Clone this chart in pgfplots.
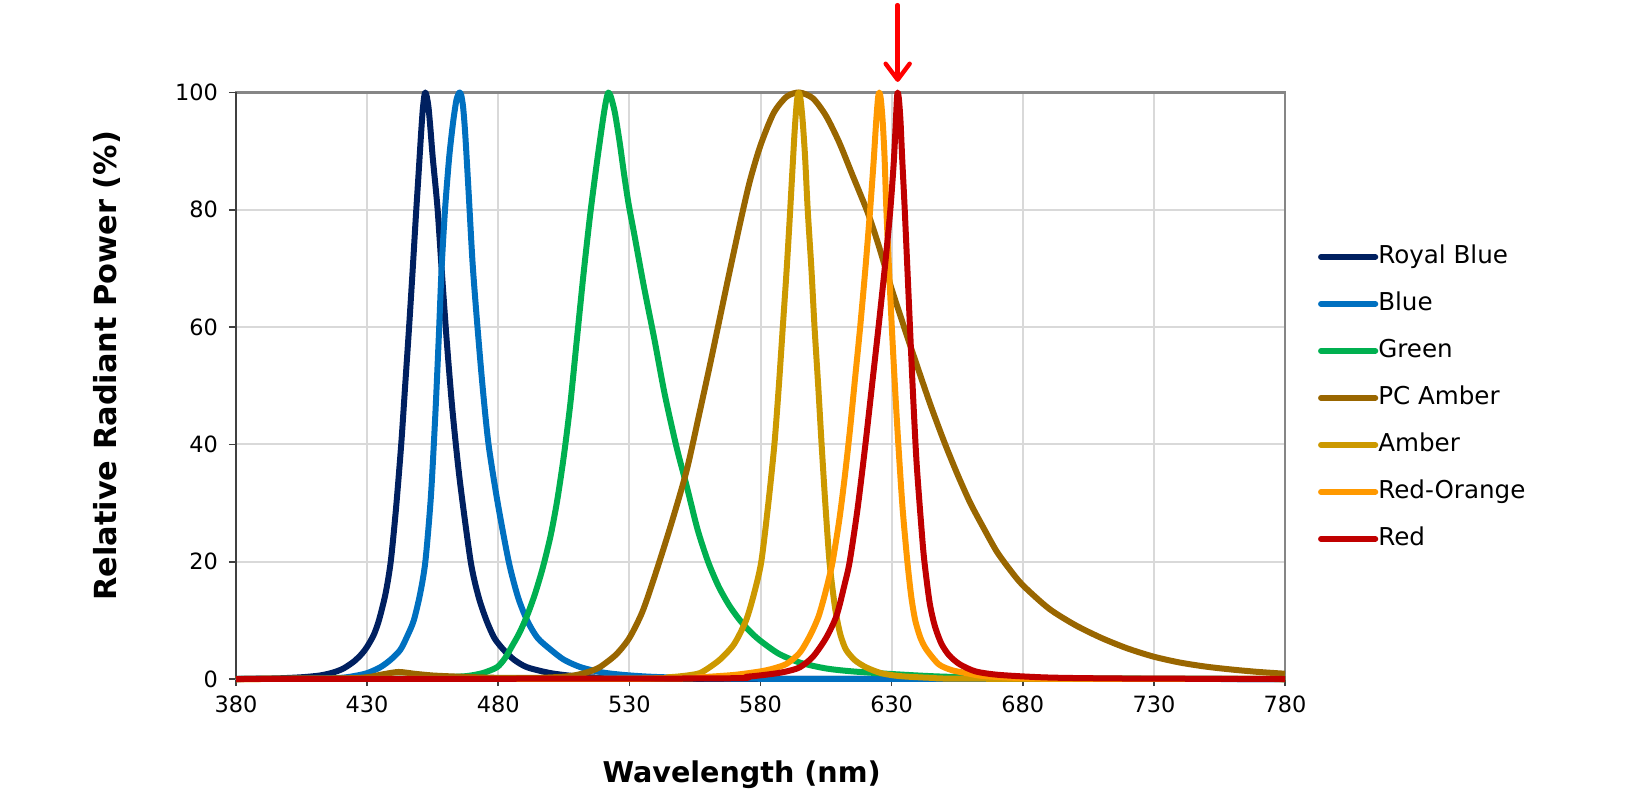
\documentclass[border=0pt]{standalone}
\usepackage{fontspec}
\setmainfont{DejaVu Sans}
\usepackage{pgfplots}
\pgfplotsset{compat=1.18}
\usetikzlibrary{arrows.meta}
\definecolor{royal}{HTML}{002060}
\definecolor{blueC}{HTML}{0070C0}
\definecolor{greenC}{HTML}{00B050}
\definecolor{pcamber}{HTML}{996600}
\definecolor{amber}{HTML}{CC9900}
\definecolor{redorange}{HTML}{FF9900}
\definecolor{redC}{HTML}{C00000}
\definecolor{gridgray}{HTML}{D9D9D9}
\definecolor{framegray}{HTML}{868686}
\begin{document}
\begin{tikzpicture}
\path[use as bounding box] (-118pt,-62.5pt) rectangle (698pt,339.5pt);
\begin{axis}[
  at={(0pt,0pt)}, anchor=south west,
  scale only axis, width=524.5pt, height=293.25pt,
  xmin=380, xmax=780, ymin=0, ymax=100,
  xtick={380,430,...,780}, ytick={0,20,...,100},
  grid=major, major grid style={gridgray, line width=1pt},
  axis line style={framegray, line width=1.2pt},
  tick align=outside, tick pos=left, major tick length=3.5pt,
  tick style={black!75, line width=0.8pt},
  /pgf/number format/assume math mode=true,
  /pgf/number format/1000 sep={},
  ticklabel style={font=\fontsize{11.2}{13}\selectfont},
  xticklabel style={yshift=-1.6pt},
  yticklabel style={xshift=-2pt},
  xlabel={Wavelength (nm)}, ylabel={Relative Radiant Power (\%)},
  every axis x label/.style={at={(axis description cs:0.482,0)}, yshift=-48pt, anchor=center, font=\bfseries\fontsize{14.3}{17}\selectfont},
  every axis y label/.style={at={(axis description cs:0,0.534)}, xshift=-64.5pt, rotate=90, anchor=center, font=\bfseries\fontsize{15.2}{18}\selectfont},
  clip=false,
  legend style={at={(axis description cs:1.0315,0.7395)}, anchor=north west, draw=none, fill=none, inner sep=0pt, outer sep=0pt, row sep=11.9pt, font=\fontsize{12.3}{14}\selectfont, nodes={inner sep=0pt, text height=9pt, text depth=2.6pt}, /tikz/every even column/.append style={column sep=2.2pt}},
  legend cell align=left,
  legend image code/.code={\draw[#1, line width=3pt, line cap=round] (1.5pt,0pt) -- (28.6pt,0pt);},
  every axis plot post/.append style={line width=3pt, line join=round, smooth, tension=0.45},
]
\draw[black!75, line width=1.2pt] (axis cs:380,0) -- (axis cs:380,100);
\addplot[royal] coordinates {(380,0) (395,0.1) (405,0.3) (412,0.6) (417,1.1) (421,1.8) (425,3) (428,4.3) (430,5.5) (432.5,7.5) (434.5,10) (437,14.5) (439,20) (441,29) (443,40) (444.5,50) (446,60) (447.4,70) (448.6,79) (449.6,86) (450.5,92.5) (451.2,97) (451.8,99.4) (452.2,100) (452.7,99.4) (453.4,97.5) (454.2,93.5) (455,89) (456.8,80.5) (458.4,70) (460.3,58) (462.5,46) (465.3,34) (469.5,20) (472.5,14) (475.5,10) (478.5,7) (482,5) (486,3.3) (491,2) (500,1) (510,0.45) (520,0.2) (535,0.08) (560,0.02) (780,0)};
\addlegendentry{Royal Blue}
\addplot[blueC] coordinates {(380,0) (410,0.05) (420,0.2) (425,0.5) (430,1) (435,2) (439,3.3) (442.7,5) (445.5,7.5) (447.8,10) (450.2,14.5) (452.2,20) (454.3,31) (456,45) (457.3,58) (458.4,70) (459.7,80) (461.3,89) (462.8,95) (464,98.6) (464.8,99.7) (465.3,100) (465.9,99.5) (466.6,97.5) (467.4,93) (468.7,83) (470.2,71) (471.9,61) (474,50) (476.3,40) (479.8,30) (484,20) (487.5,14) (491,10) (495,7) (500,5) (505,3.3) (511.5,2) (520,1.1) (529,0.65) (540,0.35) (560,0.12) (600,0.02) (780,0)};
\addlegendentry{Blue}
\addplot[greenC] coordinates {(380,0) (440,0.05) (455,0.2) (462,0.35) (468,0.5) (474,1) (479.5,2) (482.5,3.5) (485,5.4) (488,7.8) (491,10.8) (494,14.5) (497,19) (500,24.5) (502.5,30.5) (505,38) (507.5,47) (510,58) (512.5,69) (515,79) (517.3,87) (519,92.5) (520.3,96.5) (521.2,98.8) (522,100) (523,99.2) (524.5,96.5) (526.3,91.5) (528,86) (529.7,81) (532,75.5) (535.5,67) (539.5,58) (543.5,48.5) (548,39.5) (551.8,33) (556,25.5) (560,20) (564,15.8) (568,12.6) (572,10.1) (576,8.1) (580,6.5) (587,4.3) (595,2.8) (605,1.8) (615,1.3) (630,0.85) (650,0.4) (680,0.15) (720,0.05) (780,0)};
\addlegendentry{Green}
\addplot[pcamber] coordinates {(380,0) (420,0.1) (430,0.3) (436,0.8) (442,1.2) (448,0.9) (455,0.6) (465,0.4) (480,0.2) (495,0.2) (505,0.4) (510,0.7) (515,1.3) (519,2.1) (525,4.2) (530,7) (535,11.5) (540,18) (546,26.5) (551.8,35.5) (556.8,45.5) (560.7,53.5) (564,60.5) (568,69) (572.6,78.5) (576,85) (580,91) (585,96.5) (590,99.3) (594.8,100) (600,99) (605,96) (610,91.5) (615,86) (620.9,79.5) (625,74) (630,66.5) (635.5,59) (640,53) (645,46.5) (650,40.5) (655,35) (660,30) (665,25.8) (670,21.8) (675,18.7) (680,16) (690,12) (700,9.2) (710,7) (720,5.2) (730,3.8) (740,2.8) (750,2.1) (760,1.6) (770,1.2) (780,0.9)};
\addlegendentry{PC Amber}
\addplot[amber] coordinates {(380,0) (530,0.05) (545,0.3) (552,0.6) (556.8,1) (560.6,2) (565,3.5) (570,6) (574.5,10) (577.5,14.5) (580.3,20) (583,30) (585.3,40) (587,50) (588.5,60) (590,70) (591.2,79) (592.2,87) (593.1,94) (593.9,98.6) (594.6,100) (595.3,98.7) (596.1,95) (597,89) (598,80) (599.4,70) (600.6,60) (602,50) (603.3,40) (604.7,30) (606.3,20) (608,13.5) (609,10.6) (610.5,7.5) (612.6,5) (616,3.2) (620.2,2) (626,1) (633,0.5) (645,0.2) (660,0.05) (780,0)};
\addlegendentry{Amber}
\addplot[redorange] coordinates {(380,0) (540,0.05) (556.8,0.3) (570,0.7) (580,1.3) (585,1.8) (590,2.6) (595,4.5) (599,7.5) (602,10.5) (604,13.5) (606,17) (607.5,20) (610,27) (612,34) (614,42) (616,51) (618,60) (620,70) (621.8,80) (623.1,88) (624.1,95) (624.8,99) (625.3,100) (625.9,98.8) (626.6,95) (627.3,89) (628,80) (629.2,68) (630.3,58) (631.5,48) (632.7,39) (634.2,29) (636,20) (637.5,14) (639,10) (641,7) (643.3,5) (648,2.5) (653,1.5) (658.6,1) (665,0.5) (680,0.15) (700,0.05) (780,0)};
\addlegendentry{Red-Orange}
\addplot[redC] coordinates {(380,0) (560,0.1) (575,0.4) (585,0.9) (590,1.3) (595,2) (600,3.8) (605,7) (609,10.8) (612,16) (614,20) (617,29) (620,40) (622.5,50) (625,60) (627.6,71) (629.5,80) (630.8,88) (631.6,95) (632,98.8) (632.3,100) (632.8,98.8) (633.4,95) (634,89) (635,80) (636.5,65) (638,50) (639.5,37) (641.5,25) (642.5,20) (644.5,13) (646.5,9) (649,6) (652,4) (656,2.5) (662,1.3) (671,0.7) (690,0.25) (720,0.08) (780,0)};
\addlegendentry{Red}
\draw[red, line width=2.2pt, line cap=round, -{Straight Barb[length=8pt,width=12pt,round]}] (axis cs:632.3,114.9) -- (axis cs:632.3,101.8);
\end{axis}
\end{tikzpicture}
\end{document}
